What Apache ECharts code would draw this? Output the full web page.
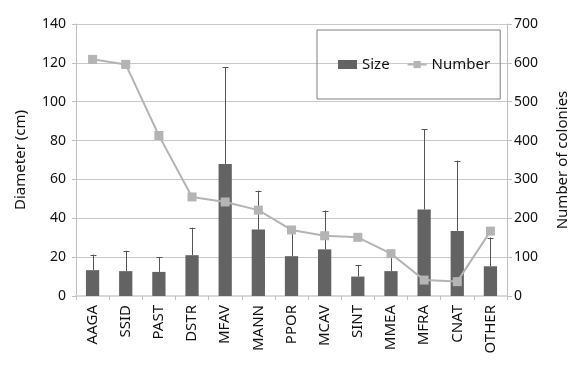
<!DOCTYPE html>
<html><head><meta charset="utf-8">
<script src="https://cdn.jsdelivr.net/npm/echarts@6/dist/echarts.min.js"></script>
<style>html,body{margin:0;padding:0;background:#fff}#c{width:578px;height:368px}</style>
</head><body><div id="c"></div>
<script>
const categories = ['AAGA','SSID','PAST','DSTR','MFAV','MANN','PPOR','MCAV','SINT','MMEA','MFRA','CNAT','OTHER'];
const sizeValues = [13.3, 12.8, 12.4, 21, 68, 34.2, 20.5, 24, 10, 12.8, 44.5, 33.5, 15.3];
const sizeUpper = [21.3, 23.3, 19.9, 35.2, 117.7, 54.2, 32.3, 44, 16, 21.5, 85.7, 69.7, 30.1];
const numberValues = [609, 596, 413, 255, 242, 221, 170, 155, 151, 109, 41, 37, 167];
const leftTicks = {min: 0, max: 140, interval: 20};
const rightTicks = {min: 0, max: 700, interval: 100};

const font = '"Noto Sans", sans-serif';
const chart = echarts.init(document.getElementById('c'));
const errData = sizeValues.map((v, i) => [i, v, sizeUpper[i]]);
chart.setOption({
  animation: false,
  grid: {left: 76, right: 67, top: 24, bottom: 72},
  legend: {
    left: 317, top: 30,
    padding: [27, 10, 27, 21],
    borderColor: '#7f7f7f', borderWidth: 1,
    itemGap: 17,
    textStyle: {fontFamily: font, fontSize: 15, color: '#111'},
    data: [
      {name: 'Size', icon: 'rect', itemStyle: {color: '#636363'}},
      {name: 'Number'}
    ],
    itemWidth: 19, itemHeight: 9
  },
  xAxis: [{
    type: 'category', data: categories, boundaryGap: true,
    axisLine: {lineStyle: {color: '#bfbfbf', width: 1}},
    axisTick: {show: true, length: 4, lineStyle: {color: '#bfbfbf'}},
    axisLabel: {rotate: 90, margin: 9, fontFamily: font, fontSize: 15, color: '#111'}
  }, {
    type: 'category', data: categories, position: 'top',
    axisLine: {lineStyle: {color: '#d9d9d9', width: 2}},
    axisTick: {show: false}, axisLabel: {show: false}
  }],
  yAxis: [{
    type: 'value', min: leftTicks.min, max: leftTicks.max, interval: leftTicks.interval,
    name: 'Diameter (cm)', nameLocation: 'middle', nameGap: 48, nameRotate: 90,
    nameTextStyle: {fontFamily: font, fontSize: 15, color: '#111'},
    axisLine: {show: true, lineStyle: {color: '#bfbfbf'}},
    axisTick: {show: true, length: 4, lineStyle: {color: '#bfbfbf'}},
    axisLabel: {margin: 10, fontFamily: font, fontSize: 14, color: '#111'},
    splitLine: {show: true, lineStyle: {color: '#c8c8c8', width: 1}}
  }, {
    type: 'value', min: rightTicks.min, max: rightTicks.max, interval: rightTicks.interval,
    name: 'Number of colonies', nameLocation: 'middle', nameGap: 48, nameRotate: 90,
    nameTextStyle: {fontFamily: font, fontSize: 15, color: '#111'},
    axisLine: {show: true, lineStyle: {color: '#bfbfbf'}},
    axisTick: {show: true, inside: false, length: 5, lineStyle: {color: '#bfbfbf'}},
    axisLabel: {margin: 7, fontFamily: font, fontSize: 14, color: '#111'},
    splitLine: {show: false}
  }],
  series: [{
    name: 'Size', type: 'bar', data: sizeValues, xAxisIndex: 0, yAxisIndex: 0,
    barWidth: '40%', itemStyle: {color: '#636363'}, z: 2
  }, {
    name: 'SizeErr', type: 'custom', xAxisIndex: 0, yAxisIndex: 0, data: errData, z: 3,
    renderItem: function (params, api) {
      const lo = api.coord([api.value(0), api.value(1)]);
      const hi = api.coord([api.value(0), api.value(2)]);
      const x = Math.round(lo[0]) + 0.5;
      return {type: 'group', children: [
        {type: 'line', shape: {x1: x, y1: lo[1], x2: x, y2: hi[1]}, style: {stroke: '#555', lineWidth: 1}},
        {type: 'line', shape: {x1: x - 3, y1: Math.round(hi[1]) + 0.5, x2: x + 3, y2: Math.round(hi[1]) + 0.5}, style: {stroke: '#555', lineWidth: 1}}
      ]};
    }
  }, {
    name: 'Number', type: 'line', data: numberValues, xAxisIndex: 0, yAxisIndex: 1,
    symbol: 'rect', symbolSize: 9, z: 5,
    lineStyle: {color: '#b4b4b4', width: 2}, itemStyle: {color: '#b4b4b4'}
  }]
});
</script></body></html>
